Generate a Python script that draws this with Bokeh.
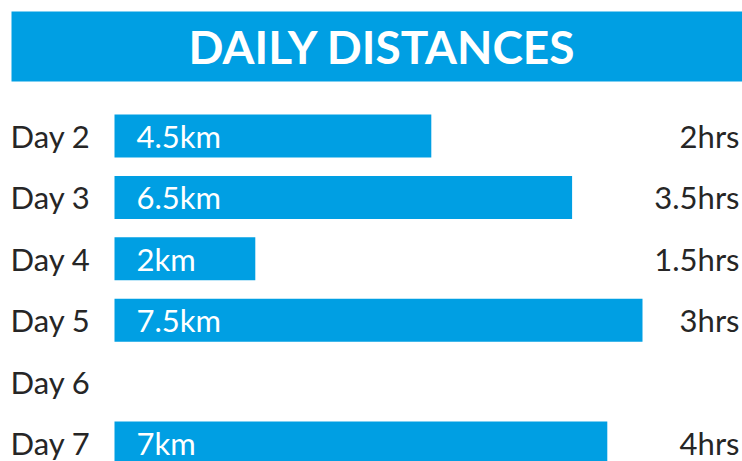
from bokeh.plotting import figure
from bokeh.models import ColumnDataSource, Range1d
from bokeh.core.properties import value
from bokeh.embed import file_html
from bokeh.resources import INLINE

# ---- data ----
days = ["Day 2", "Day 3", "Day 4", "Day 5", "Day 6", "Day 7"]
distances_km = [4.5, 6.5, 2.0, 7.5, 0.0, 7.0]
distance_labels = ["4.5km", "6.5km", "2km", "7.5km", "", "7km"]
durations = ["2hrs", "3.5hrs", "1.5hrs", "3hrs", "", "4hrs"]
title_text = "DAILY DISTANCES"

# ---- layout constants (pixels) ----
W, H = 742, 461
PX_PER_KM = 70.4
BAR_X0 = 114          # canvas x of zero km
ROW0 = 135.5          # canvas y of first row centre
ROW_STEP = 61.4
BAR_H_PX = 43
BLUE = "#009fe3"
DARK = "#262626"
FONT = value("Lato")
FS = "31px"

x0 = -BAR_X0 / PX_PER_KM
x1 = (W - BAR_X0) / PX_PER_KM
y_top = -ROW0 / ROW_STEP
y_bot = (H - ROW0) / ROW_STEP

def px_to_x(px):
    return (px - BAR_X0) / PX_PER_KM

def py_to_y(py):
    return (py - ROW0) / ROW_STEP

p = figure(width=W, height=H, output_backend="svg", toolbar_location=None,
           x_range=Range1d(x0, x1), y_range=Range1d(y_bot, y_top),
           min_border=0, outline_line_color=None, background_fill_color="white",
           border_fill_color="white")
p.axis.visible = False
p.grid.visible = False

# title bar
p.quad(left=[px_to_x(11)], right=[px_to_x(W + 20)], top=[py_to_y(11)], bottom=[py_to_y(81)],
       fill_color=BLUE, line_color=None)
p.text(x=[px_to_x(382)], y=[py_to_y(46)], text=[title_text], text_color="white",
       text_font=FONT, text_font_style="bold", text_font_size="46px",
       text_align="center", text_baseline="middle")

rows = list(range(len(days)))
src = ColumnDataSource(dict(y=rows, km=distances_km, day=days,
                            lab=distance_labels, dur=durations,
                            left=[0.0] * len(days)))

p.hbar(y="y", left="left", right="km", height=BAR_H_PX / ROW_STEP, source=src,
       fill_color=BLUE, line_color=None)

p.text(x=px_to_x(10), y="y", text="day", source=src, text_color=DARK,
       text_font=FONT, text_font_size=FS, text_align="left",
       text_baseline="middle")
p.text(x=0, y="y", x_offset=22, text="lab", source=src, text_color="white",
       text_font=FONT, text_font_size=FS, text_align="left",
       text_baseline="middle")
p.text(x=px_to_x(739), y="y", text="dur", source=src, text_color=DARK,
       text_font=FONT, text_font_size=FS, text_align="right",
       text_baseline="middle")

open("out.html", "w").write(file_html(p, INLINE))
